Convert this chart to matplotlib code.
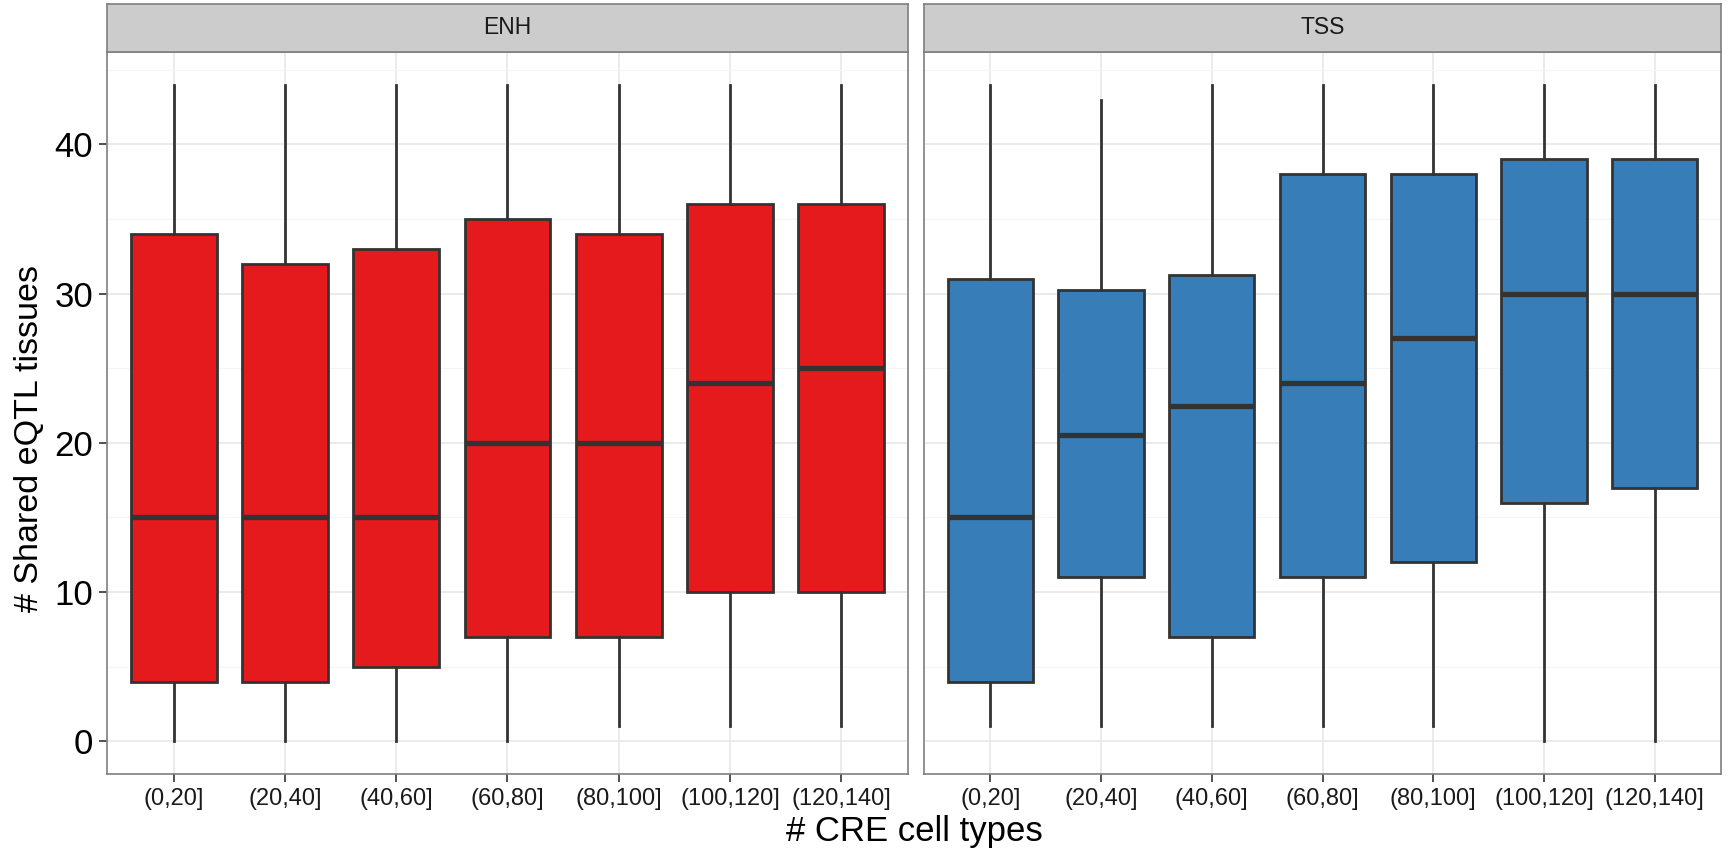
import matplotlib
matplotlib.use("Agg")
import matplotlib.pyplot as plt
from matplotlib.ticker import MultipleLocator

plt.rcParams['font.family'] = ['Liberation Sans', 'DejaVu Sans']

# Data
categories = ['(0,20]', '(20,40]', '(40,60]', '(60,80]', '(80,100]', '(100,120]', '(120,140]']

enh_low = [0, 0, 0, 0, 1, 1, 1]
enh_q1 = [4, 4, 5, 7, 7, 10, 10]
enh_med = [15, 15, 15, 20, 20, 24, 25]
enh_q3 = [34, 32, 33, 35, 34, 36, 36]
enh_high = [44, 44, 44, 44, 44, 44, 44]

tss_low = [1, 1, 1, 1, 1, 0, 0]
tss_q1 = [4, 11, 7, 11, 12, 16, 17]
tss_med = [15, 20.5, 22.5, 24, 27, 30, 30]
tss_q3 = [31, 30.25, 31.25, 38, 38, 39, 39]
tss_high = [44, 43, 44, 44, 44, 44, 44]

panels = ['ENH', 'TSS']
colors = ['#E41A1C', '#377EB8']

W, H = 1733, 851
fig = plt.figure(figsize=(W / 100, H / 100), dpi=100)

edge = '#333333'
border = '#7F7F7F'

lefts = [107, 924]
rights = [908, 1721]
panel_top = 52
panel_bottom = 774
strip_top = 4

def stats_for(low, q1, med, q3, high):
    out = []
    for i in range(len(categories)):
        out.append(dict(whislo=low[i], q1=q1[i], med=med[i], q3=q3[i],
                        whishi=high[i], fliers=[]))
    return out

data = [stats_for(enh_low, enh_q1, enh_med, enh_q3, enh_high),
        stats_for(tss_low, tss_q1, tss_med, tss_q3, tss_high)]

for p in range(2):
    l, r = lefts[p], rights[p]
    ax = fig.add_axes([l / W, 1 - panel_bottom / H, (r - l) / W, (panel_bottom - panel_top) / H])
    ax.set_facecolor('white')
    ax.bxp(data[p], positions=range(1, len(categories) + 1), widths=0.77,
           showcaps=False, showfliers=False, patch_artist=True,
           boxprops=dict(facecolor=colors[p], edgecolor=edge, linewidth=2),
           whiskerprops=dict(color=edge, linewidth=2),
           medianprops=dict(color=edge, linewidth=3.8, solid_capstyle='butt'),
           zorder=3)
    ax.set_xlim(0.4, len(categories) + 0.6)
    ax.set_ylim(-2.2, 46.2)
    ax.yaxis.set_major_locator(MultipleLocator(10))
    ax.yaxis.set_minor_locator(MultipleLocator(5))
    ax.set_xticks(range(1, len(categories) + 1))
    ax.set_xticklabels(categories, fontsize=17, color='#1a1a1a')
    ax.grid(which='major', color='#E5E5E5', linewidth=1.1, zorder=0)
    ax.grid(which='minor', axis='y', color='#F5F5F5', linewidth=0.8, zorder=0)
    ax.set_axisbelow(True)
    ax.tick_params(axis='both', which='major', length=5.5, width=1.2, color='#333333', pad=4.5)
    ax.tick_params(axis='both', which='minor', length=0)
    for s in ax.spines.values():
        s.set_color(border)
        s.set_linewidth(1.2)
    if p == 0:
        ax.tick_params(axis='y', labelsize=25, labelcolor='black')
    else:
        ax.tick_params(axis='y', labelleft=False, length=0)

    # facet strip
    sax = fig.add_axes([l / W, 1 - panel_top / H, (r - l) / W, (panel_top - strip_top) / H])
    sax.set_facecolor('#CCCCCC')
    sax.set_xticks([])
    sax.set_yticks([])
    for s in sax.spines.values():
        s.set_color(border)
        s.set_linewidth(1.2)
    sax.text(0.5, 0.5, panels[p], ha='center', va='center', fontsize=16.5,
             color='#1a1a1a', transform=sax.transAxes)

fig.text(30 / W, 1 - 439 / H, '# Shared eQTL tissues',
         rotation=90, ha='center', va='center', fontsize=24.5)
fig.text((lefts[0] + rights[1]) / 2 / W, 1 - 832 / H, '# CRE cell types',
         ha='center', va='center', fontsize=25)

fig.savefig('out.png', dpi=100)
